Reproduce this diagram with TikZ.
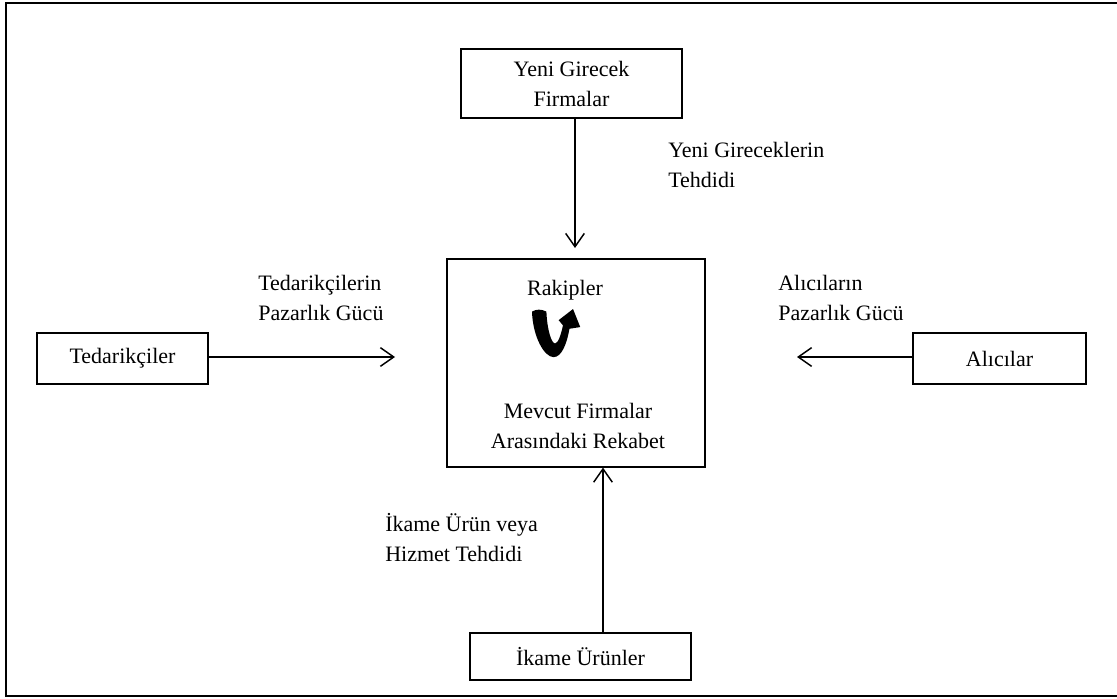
\documentclass[tikz,border=0pt]{standalone}
\usepackage{fontspec}
\setmainfont{Liberation Serif}
\usetikzlibrary{arrows.meta}
\begin{document}
\begin{tikzpicture}[x=0.75pt,y=-0.75pt,
  txt/.style={font={\fontsize{16.5}{22.5}\selectfont}, inner sep=0pt},
  box/.style={draw, line width=0.9pt, txt, align=center},
  force/.style={line width=1.1pt, -{Straight Barb[length=10pt,width=14pt,line width=1.1pt]}},
  lbl/.style={txt, align=left, anchor=west}]
\useasboundingbox (0,0) rectangle (1117,699);
% outer frame, open on the right
\draw[line width=1.8pt] (1117,3) -- (6,3) -- (6,696) -- (1117,696);

% the five forces
\node[box, minimum width=165.75pt, minimum height=51.75pt] (entry) at (571.5,83.5) {Yeni Girecek\\Firmalar};
\node[box, minimum width=193.5pt, minimum height=156pt] (rival) at (576,363) {};
\node[box, minimum width=128.25pt, minimum height=38.25pt] (supp) at (122.5,358.5) {Tedarikçiler};
\node[box, minimum width=129.75pt, minimum height=38.25pt] (buyer) at (999.5,358.5) {Alıcılar};
\node[box, minimum width=165.75pt, minimum height=35.25pt] (subst) at (580.5,656.5) {İkame Ürünler};

% texts inside the central box
\node[txt] (rak) at (565,290) {Rakipler};
\node[txt, align=center] (mev) at (578,426) {Mevcut Firmalar\\Arasındaki Rekabet};

% connector labels
\node[lbl] (lentry) at (668,165) {Yeni Gireceklerin\\Tehdidi};
\node[lbl] (lsupp) at (258,298) {Tedarikçilerin\\Pazarlık Gücü};
\node[lbl] (lbuyer) at (778,298) {Alıcıların\\Pazarlık Gücü};
\node[lbl] (lsubst) at (385,538) {İkame Ürün veya\\Hizmet Tehdidi};

% free ends of the arrows that stop short of the central box
\coordinate (entryTip) at (575,248);
\coordinate (suppTip) at (395,357);
\coordinate (buyerTip) at (797,357);

\draw[force] (entry.south -| entryTip) -- (entryTip);
\draw[force] (supp.east |- suppTip) -- (suppTip);
\draw[force] (buyer.west |- buyerTip) -- (buyerTip);
\draw[force] (subst.north -| 603,0) -- (rival.south -| 603,0);

% rivalry symbol: thick U-turn arrow
\begin{scope}[shift={(532,309)}, xscale=0.72, yscale=0.86]
\fill (0,3) .. controls (1,32) and (17,56) .. (30,56)
  .. controls (42,56) and (49,38) .. (52,23)
  -- (67,21) -- (57,0) -- (37,13) -- (43,19)
  .. controls (40,31) and (36,40) .. (32,40)
  .. controls (27,40) and (21,24) .. (20,3)
  .. controls (13,0) and (6,0) .. cycle;
\end{scope}
\end{tikzpicture}
\end{document}
